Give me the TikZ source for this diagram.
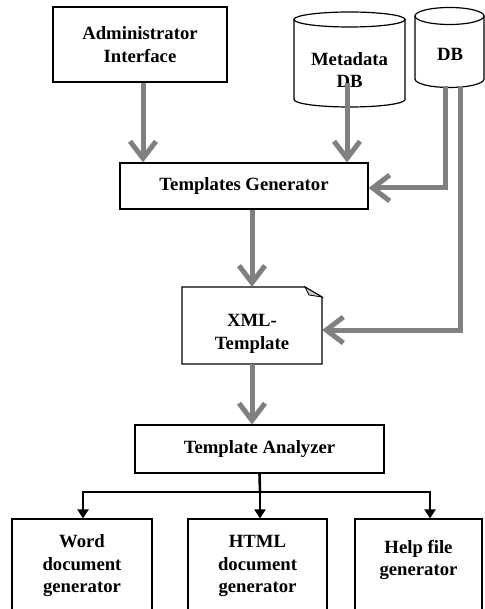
\documentclass[tikz,border=0pt]{standalone}
\usepackage{fontspec}
\setmainfont{Liberation Serif}
\usetikzlibrary{arrows.meta,calc}
\definecolor{arrgray}{RGB}{128,128,128}
\definecolor{foldgray}{RGB}{200,200,200}
\begin{document}
\begin{tikzpicture}[x=1pt,y=-1pt,
  every node/.style={font=\bfseries\fontsize{18.7}{22.5}\selectfont, align=center, inner sep=0pt},
  box/.style={draw=black, line width=1.2pt, fill=white},
  garrow/.style={draw=arrgray, line width=5pt, -{Straight Barb[length=17pt,width=26pt]}},
  barrow/.style={draw=black, line width=2.6pt, -{Triangle[length=9pt,width=11pt]}},
  cyl/.style={draw=black, line width=1.2pt, fill=white}]
\useasboundingbox (0,0) rectangle (484,609);
\fill[white] (0,0) rectangle (484,609);

% Administrator Interface
\node[box, minimum width=174pt, minimum height=75pt] (admin) at (140,44.5) {Administrator\\Interface};

% Metadata DB cylinder
\path[cyl] (294,19.5) -- (294,99.5) arc[start angle=180,end angle=360,x radius=55.5pt,y radius=7.5pt] -- (405,19.5) -- cycle;
\draw[cyl] (349.5,19.5) ellipse [x radius=55.5pt, y radius=7.5pt];
\node (meta) at (349.5,70) {Metadata\\DB};
\coordinate (metaout) at (347,83);

% DB cylinder
\path[cyl] (415,16) -- (415,79) arc[start angle=180,end angle=360,x radius=34.5pt,y radius=8.5pt] -- (484,16) -- cycle;
\draw[cyl] (449.5,16) ellipse [x radius=34.5pt, y radius=8.5pt];
\node (db) at (450,54) {DB};
\coordinate (dbout1) at (445,86);
\coordinate (dbout2) at (460,86);

% Templates Generator
\node[box, minimum width=248pt, minimum height=46pt] (tg) at (244,186) {Templates Generator};

% XML template document
\path[draw=black, line width=1.2pt, fill=white] (182,287) -- (305,287) -- (322,297) -- (322,364) -- (182,364) -- cycle;
\path[draw=black, line width=0.8pt, fill=foldgray] (305,287) -- (309,295) -- (322,297) -- cycle;
\node[minimum width=140pt, minimum height=77pt] (xml) at (252,325.5) {};
\node (xmltext) at (252,334) {XML-\\Template};

% Template Analyzer
\node[box, minimum width=249pt, minimum height=48pt] (ana) at (259.5,449) {Template Analyzer};

% Bottom boxes
\node[box, minimum width=140pt, minimum height=94pt] (word) at (82,566) {Word\\document\\generator};
\node[box, minimum width=139pt, minimum height=94pt] (html) at (257.5,566) {HTML\\document\\generator};
\node[box, minimum width=127pt, minimum height=94pt] (help) at (418.5,566) {};
\node (helptext) at (418.5,560) {Help file\\generator};

% gray arrows
\draw[garrow] ([xshift=3pt]admin.south) -- ([xshift=3pt]admin.south |- tg.north);
\draw[garrow] (metaout) -- (metaout |- tg.north);
\draw[garrow, rounded corners=0pt] (dbout1) |- ([yshift=-2pt]tg.east);
\draw[garrow] (dbout2) |- ([yshift=-4.5pt]xml.east);
\draw[garrow] (tg.south -| xml.north) -- (xml.north);
\draw[garrow] (xml.south) -- (xml.south |- ana.north);

% black tree
\coordinate (junc) at (260,492);
\draw[draw=black, line width=2.6pt] (ana.south) -- (junc);
\draw[barrow] (junc) -| ([xshift=1pt]word.north);
\draw[barrow] (junc) -- (junc |- html.north);
\draw[barrow] (junc) -| ([xshift=11.5pt]help.north);
\end{tikzpicture}
\end{document}
